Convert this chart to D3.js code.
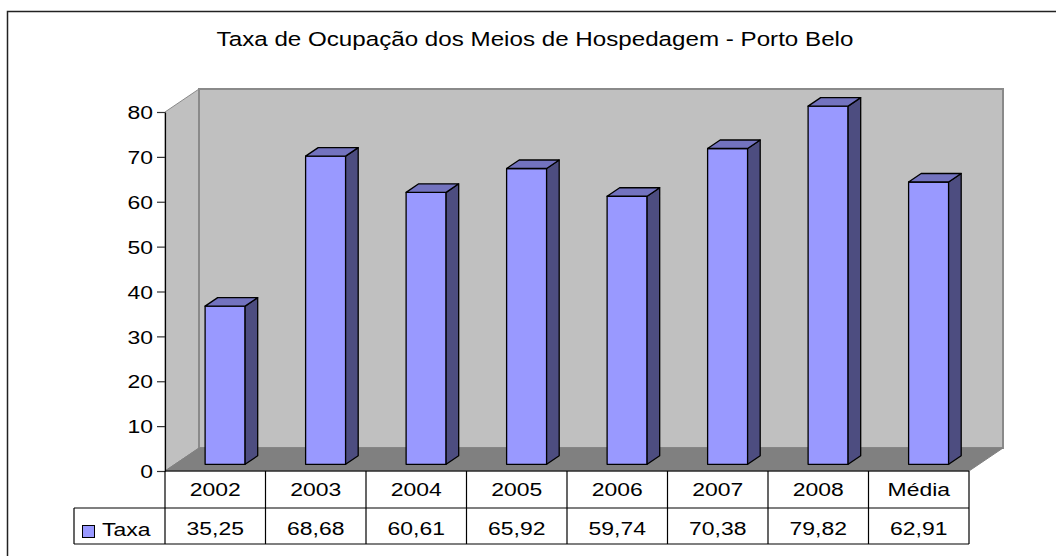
<!DOCTYPE html>
<html>
  <head>
    <meta charset="utf-8">
    <title>Taxa de Ocupação dos Meios de Hospedagem - Porto Belo</title>
    <script src="https://d3js.org/d3.v7.min.js"></script>
    <style>
      body { margin: 0; background: #fff; }
      svg { display: block; font-family: "Liberation Sans", Arial, sans-serif; }
    </style>
  </head>
  <body>
    <svg width="1056" height="556"></svg>

    <script>
      // data
      const title = "Taxa de Ocupação dos Meios de Hospedagem - Porto Belo";
      const seriesName = "Taxa";
      const categories = ["2002", "2003", "2004", "2005", "2006", "2007", "2008", "Média"];
      const taxa = [35.25, 68.68, 60.61, 65.92, 59.74, 70.38, 79.82, 62.91];
      const yTicks = [0, 10, 20, 30, 40, 50, 60, 70, 80];

      const svg = d3.select("svg");
      const SX = 1.24; // text in the picture is stretched sideways

      // 3d depth offset of the walls
      const DX = 34, DY = 23;

      const x = d3.scaleBand().domain(categories).range([165, 969]);
      const y = d3.scaleLinear().domain([0, 80]).range([471, 112]);

      const pt = (px, v, z) => [px + z * DX, y(v) - z * DY];
      const poly = pts => "M" + pts.map(p => p.join(",")).join("L") + "Z";

      const comma = d3.formatLocale({decimal: ",", thousands: ".", grouping: [3], currency: ["", ""]}).format(".2f");

      function label(g, txt, tx, ty, size, anchor) {
        return g.append("text")
          .attr("transform", `translate(${tx},${ty}) scale(${SX},1)`)
          .attr("text-anchor", anchor)
          .attr("font-size", size)
          .attr("fill", "#000")
          .text(txt);
      }

      // outer frame (runs off the right and bottom edge)
      svg.append("rect")
        .attr("x", 7.5).attr("y", 11.5)
        .attr("width", 1100).attr("height", 600)
        .attr("fill", "#fff")
        .attr("stroke", "#222").attr("stroke-width", 1.5);

      // title
      label(svg, title, 535, 46, 19.5, "middle");

      const x0 = x.range()[0], x1 = x.range()[1];

      // walls
      svg.append("path")
        .attr("d", poly([pt(x0, 0, 0), pt(x0, 80, 0), pt(x0, 80, 1), pt(x0, 0, 1)]))
        .attr("fill", "#c0c0c0").attr("stroke", "#8a8a8a").attr("stroke-width", 1);
      svg.append("path")
        .attr("d", poly([pt(x0, 0, 1), pt(x0, 80, 1), pt(x1, 80, 1), pt(x1, 0, 1)]))
        .attr("fill", "#c0c0c0").attr("stroke", "#8a8a8a").attr("stroke-width", 2);
      // floor
      svg.append("path")
        .attr("d", poly([pt(x0, 0, 0), pt(x0, 0, 1), pt(x1, 0, 1), pt(x1, 0, 0)]))
        .attr("fill", "#808080").attr("stroke", "#808080").attr("stroke-width", 1);

      // bars
      const bw = 40, z0 = 0.29, z1 = 0.66;
      const bars = svg.append("g").selectAll("g")
        .data(categories.map((c, i) => ({c, v: taxa[i]})))
        .join("g")
        .attr("stroke", "#000").attr("stroke-width", 1.3).attr("stroke-linejoin", "round");

      const bl = d => x(d.c) + x.bandwidth() / 2 - bw / 2;
      bars.append("path")
        .attr("fill", "#9999ff")
        .attr("d", d => poly([pt(bl(d), 0, z0), pt(bl(d), d.v, z0), pt(bl(d) + bw, d.v, z0), pt(bl(d) + bw, 0, z0)]));
      bars.append("path")
        .attr("fill", "#4d4d80")
        .attr("d", d => poly([pt(bl(d) + bw, 0, z0), pt(bl(d) + bw, d.v, z0), pt(bl(d) + bw, d.v, z1), pt(bl(d) + bw, 0, z1)]));
      bars.append("path")
        .attr("fill", "#7373bf")
        .attr("d", d => poly([pt(bl(d), d.v, z0), pt(bl(d), d.v, z1), pt(bl(d) + bw, d.v, z1), pt(bl(d) + bw, d.v, z0)]));

      // y axis
      const ax = svg.append("g")
        .attr("transform", `translate(${x0},0)`)
        .call(d3.axisLeft(y).tickValues(yTicks).tickSize(8).tickSizeOuter(0).tickPadding(4));
      ax.select(".domain").attr("stroke", "#000").attr("stroke-width", 1.2);
      ax.selectAll(".tick line").attr("stroke", "#333").attr("stroke-width", 1.2);
      ax.selectAll(".tick text")
        .attr("x", null).attr("dy", null)
        .attr("transform", `translate(-12,0) scale(${SX},1)`)
        .attr("dominant-baseline", "central")
        .attr("font-size", 18.5)
        .attr("font-family", "Liberation Sans, Arial, sans-serif")
        .attr("fill", "#000");

      // data table
      const rowTop = y(0), rowMid = 508, rowBot = 544, legLeft = 74;
      const tbl = svg.append("g").attr("stroke", "#000").attr("stroke-width", 1.2).attr("fill", "none");
      tbl.append("line").attr("x1", x0).attr("x2", x1).attr("y1", rowTop).attr("y2", rowTop);
      tbl.append("line").attr("x1", legLeft).attr("x2", x1).attr("y1", rowMid).attr("y2", rowMid);
      tbl.append("line").attr("x1", legLeft).attr("x2", x1).attr("y1", rowBot).attr("y2", rowBot);
      tbl.append("line").attr("x1", legLeft).attr("x2", legLeft).attr("y1", rowMid).attr("y2", rowBot);
      tbl.selectAll(".col")
        .data(categories.map(c => x(c)).concat([x1]))
        .join("line")
        .attr("x1", d => d).attr("x2", d => d)
        .attr("y1", rowTop).attr("y2", rowBot);

      const tg = svg.append("g");
      categories.forEach((c, i) => {
        const cx = x(c) + x.bandwidth() / 2;
        label(tg, c, cx, 496, 18.5, "middle");
        label(tg, comma(taxa[i]).replace(/(\d)$/, "$1"), cx, 535, 18.5, "middle");
      });

      // legend key
      svg.append("rect")
        .attr("x", 82.5).attr("y", 525.5).attr("width", 12).attr("height", 12)
        .attr("fill", "#9999ff").attr("stroke", "#000").attr("stroke-width", 1);
      label(svg, seriesName, 102, 536, 18.5, "start");
    </script>
  </body>
</html>
